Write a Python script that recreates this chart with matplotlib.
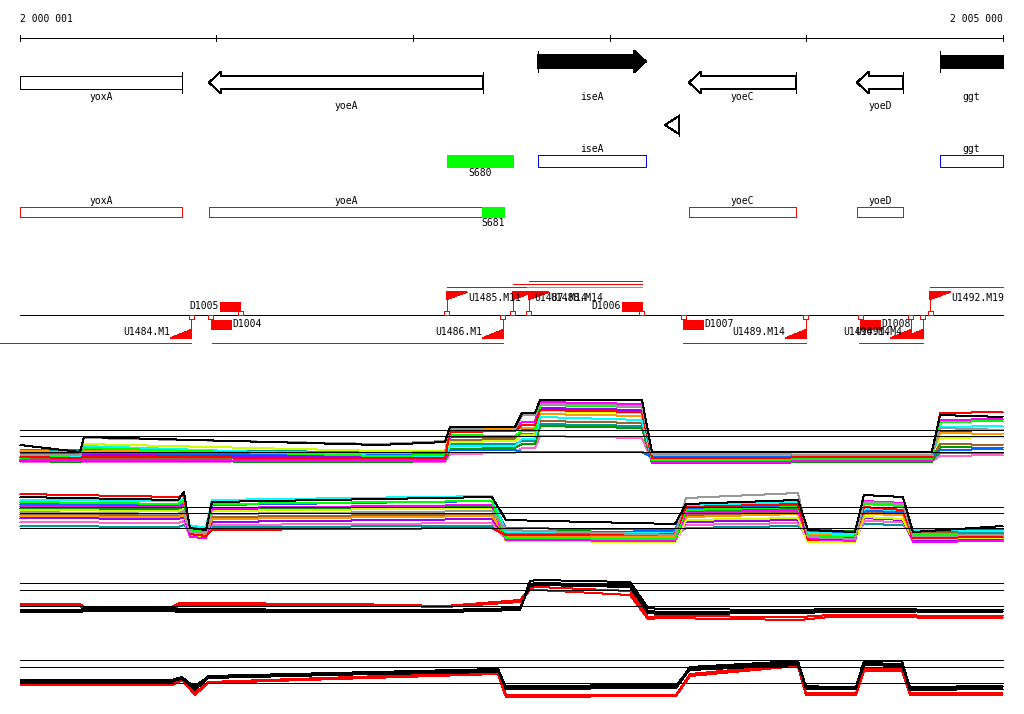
import matplotlib
matplotlib.use('Agg')
import matplotlib.pyplot as plt
from matplotlib.patches import Polygon, Rectangle

plt.rcParams['font.family'] = ['DejaVu Sans Mono']
plt.rcParams['font.size'] = 7
plt.rcParams['lines.antialiased'] = False
plt.rcParams['patch.antialiased'] = False
plt.rcParams['lines.solid_capstyle'] = 'butt'

VIEW_START = 2000001
VIEW_END = 2005000

# genes (bp)
gene_names = ['yoxA', 'yoeA', 'iseA', 'yoeC', 'yoeD', 'ggt']
gene_starts = [1999400, 2000962, 2002635, 2003403, 2004257, 2004680]
gene_ends = [2000825, 2002356, 2003184, 2003947, 2004491, 2005700]
gene_strands = ['-', '-', '+', '-', '-', '+']
terminator_pos = 2003352

# green sites
site_names = ['S680', 'S681']
site_starts = [2002172, 2002351]
site_ends = [2002508, 2002462]

# transcription units
tu_names = ['U1484.M1', 'U1485.M11', 'U1486.M1', 'U1487.M14', 'U1488.M14',
            'U1489.M14', 'U1490.M4', 'U1491.M4', 'U1492.M19']
tu_starts = [1999800, 2002172, 2000977, 2002508, 2002589, 2003373, 2004268, 2004532, 2004629]
tu_ends = [2000871, 2002573, 2002457, 2003164, 2003164, 2003998, 2004532, 2004593, 2005600]
tu_strands = ['-', '+', '-', '+', '+', '-', '-', '-', '+']
green_span = (2002578, 2003164)

# other boxes
d_names = ['D1004', 'D1005', 'D1006', 'D1007', 'D1008']
d_pos = [2000972, 2001120, 2003164, 2003373, 2004273]
d_strands = ['-', '+', '+', '-', '-']

# expression track A
expr_a_pos = [2000001, 2000306, 2000326, 2001832, 2002162, 2002188, 2002518, 2002554,
              2002620, 2002646, 2003164, 2003215, 2004638, 2004680, 2005000]
expr_a_refs = [4.0, 3.4, 1.8]
expr_a_colors = ['#000000', '#999999', '#ff0000', '#00ff00', '#ff00ff', '#00ffff', '#0066ff',
                 '#ff9900', '#ccff00', '#996633', '#009900', '#9900ff', '#ff66cc', '#009999']
expr_a = [
    [2.5, 1.8, 3.3, 2.5, 2.8, 4.3, 4.3, 5.7, 5.7, 7.0, 7.0, 1.8, 1.8, 5.5, 5.3],
    [1.5, 1.5, 3.2, 2.6, 2.9, 4.1, 4.0, 5.5, 5.5, 6.6, 6.4, 1.6, 1.5, 4.2, 4.0],
    [1.3, 1.2, 1.3, 1.2, 1.2, 3.8, 3.9, 4.5, 4.5, 6.0, 5.8, 1.2, 1.3, 5.7, 5.8],
    [1.2, 1.5, 2.2, 1.4, 1.5, 3.5, 3.4, 3.9, 3.9, 6.5, 6.3, 1.0, 1.1, 4.8, 4.9],
    [1.0, 0.9, 1.0, 0.9, 0.9, 4.0, 4.0, 4.8, 4.8, 6.8, 6.6, 0.8, 0.9, 5.0, 5.1],
    [1.4, 1.3, 2.4, 1.4, 1.3, 2.4, 2.4, 3.1, 3.1, 5.3, 5.0, 1.1, 1.2, 4.3, 4.4],
    [1.6, 1.6, 1.7, 1.5, 1.6, 2.0, 2.0, 1.8, 1.8, 1.8, 1.8, 1.3, 1.4, 2.0, 2.1],
    [1.9, 1.8, 1.9, 1.7, 1.8, 4.3, 4.2, 4.2, 4.2, 5.6, 5.4, 1.5, 1.5, 3.7, 3.6],
    [1.7, 1.8, 2.6, 1.9, 1.9, 2.8, 2.9, 3.5, 3.5, 5.9, 5.7, 1.6, 1.7, 3.2, 3.3],
    [1.1, 1.0, 1.2, 1.1, 1.0, 3.0, 3.1, 3.6, 3.6, 4.9, 4.7, 0.9, 1.0, 2.6, 2.5],
    [0.9, 0.8, 0.9, 0.8, 0.9, 2.1, 2.2, 2.6, 2.6, 4.4, 4.2, 0.7, 0.8, 2.3, 2.2],
    [1.3, 1.4, 1.5, 1.3, 1.4, 3.3, 3.3, 4.0, 4.0, 6.2, 6.0, 1.4, 1.3, 3.9, 4.0],
    [0.8, 0.8, 0.8, 0.9, 0.8, 1.6, 1.7, 2.2, 2.2, 3.4, 3.2, 0.9, 0.9, 1.4, 1.5],
    [2.0, 2.0, 2.0, 1.8, 1.9, 2.6, 2.6, 2.9, 2.9, 4.6, 4.4, 1.2, 1.1, 1.7, 1.6],
]

# expression track B
expr_b_pos = [2000001, 2000804, 2000835, 2000865, 2000947, 2000977, 2002401, 2002472, 2003332,
              2003388, 2003957, 2004008, 2004247, 2004293, 2004491, 2004542, 2005000]
expr_b_refs = [4.3, 3.7, 2.2]
expr_b_colors = expr_a_colors
expr_b = [
    [5.3, 5.0, 5.8, 2.2, 2.0, 4.8, 5.3, 3.0, 2.6, 4.6, 5.0, 2.0, 1.8, 5.5, 5.3, 1.8, 2.4],
    [3.8, 3.6, 3.9, 1.8, 1.7, 3.6, 3.9, 2.0, 1.5, 5.2, 5.7, 1.3, 1.1, 4.8, 4.6, 1.4, 1.5],
    [5.6, 5.3, 5.5, 1.6, 1.4, 2.0, 2.2, 1.5, 1.6, 4.3, 4.6, 1.0, 1.2, 4.3, 4.0, 1.2, 1.3],
    [4.8, 4.6, 4.9, 2.0, 1.9, 4.6, 4.9, 1.2, 1.1, 4.0, 4.3, 1.4, 1.3, 4.6, 4.4, 1.6, 1.5],
    [4.4, 4.3, 4.5, 1.3, 1.2, 4.2, 4.5, 1.0, 0.9, 3.7, 4.0, 1.1, 0.9, 4.9, 4.7, 0.8, 0.9],
    [5.0, 4.9, 5.1, 2.4, 2.3, 5.0, 5.4, 1.8, 1.7, 4.5, 4.8, 1.7, 1.6, 4.1, 4.0, 2.0, 1.9],
    [4.6, 4.5, 4.7, 2.1, 2.0, 4.5, 4.9, 2.2, 2.0, 4.2, 4.5, 1.9, 1.8, 3.9, 3.8, 1.9, 2.0],
    [3.4, 3.3, 3.5, 1.7, 1.6, 3.1, 3.4, 1.4, 1.3, 3.3, 3.6, 1.5, 1.4, 3.6, 3.5, 1.3, 1.4],
    [4.0, 3.9, 4.1, 1.5, 1.4, 3.9, 4.2, 0.9, 0.8, 3.0, 3.2, 0.8, 0.8, 3.3, 3.1, 1.1, 1.2],
    [3.6, 3.5, 3.7, 1.9, 1.8, 3.3, 3.6, 1.6, 1.5, 3.5, 3.8, 1.6, 1.5, 3.7, 3.6, 1.7, 1.6],
    [4.2, 4.1, 4.3, 2.3, 2.2, 4.0, 4.3, 1.9, 1.8, 3.8, 4.1, 2.0, 1.9, 4.2, 4.0, 2.1, 2.0],
    [3.2, 3.1, 3.3, 1.6, 1.5, 2.8, 3.1, 1.3, 1.2, 2.8, 3.0, 1.2, 1.1, 3.2, 3.0, 1.0, 1.1],
    [2.8, 2.7, 2.9, 1.4, 1.3, 2.5, 2.7, 1.1, 1.0, 2.5, 2.7, 1.0, 1.0, 2.9, 2.8, 0.9, 1.0],
    [2.4, 2.3, 2.5, 1.8, 1.7, 2.3, 2.4, 1.7, 1.6, 2.2, 2.4, 1.8, 1.7, 2.6, 2.5, 1.8, 1.7],
]

# expression track C
expr_c_pos = [2000001, 2000306, 2000332, 2000764, 2000815, 2001679, 2002162, 2002544,
              2002594, 2002635, 2003103, 2003195, 2003256, 2003967, 2004120, 2005000]
expr_c_refs = [4.7, 4.0, 2.4]
expr_c_colors = ['#000000', '#000000', '#000000', '#ff0000', '#ff0000']
expr_c = [
    [2.0, 2.0, 2.2, 2.2, 2.1, 2.0, 2.0, 2.1, 4.9, 5.0, 4.8, 2.2, 2.1, 2.0, 2.1, 2.0],
    [1.8, 1.8, 1.9, 1.9, 1.8, 1.8, 1.8, 2.0, 4.6, 4.7, 4.5, 1.9, 1.8, 1.8, 1.9, 1.8],
    [1.9, 1.9, 2.0, 2.0, 2.0, 1.9, 2.0, 2.2, 4.4, 4.5, 4.3, 1.7, 1.6, 1.7, 1.8, 1.9],
    [2.6, 2.6, 2.2, 2.2, 2.7, 2.6, 2.4, 3.0, 4.2, 4.3, 3.9, 1.3, 1.4, 1.3, 1.5, 1.4],
    [2.4, 2.4, 2.0, 2.0, 2.5, 2.5, 2.3, 2.8, 4.0, 4.0, 3.5, 1.1, 1.2, 1.0, 1.3, 1.2],
]

# expression track D
expr_d_pos = [2000001, 2000774, 2000825, 2000891, 2000957, 2002432, 2002472, 2003337,
              2003408, 2003957, 2003998, 2004252, 2004293, 2004486, 2004527, 2005000]
expr_d_refs = [5.0, 4.3, 2.7]
expr_d_colors = ['#000000', '#000000', '#000000', '#ff0000', '#ff0000']
expr_d = [
    [3.0, 3.0, 3.3, 2.2, 3.4, 4.1, 2.3, 2.3, 4.3, 4.9, 2.3, 2.3, 4.9, 4.9, 2.2, 2.2],
    [2.8, 2.8, 3.2, 2.0, 3.2, 3.9, 2.1, 2.2, 4.1, 4.7, 2.1, 2.1, 4.7, 4.6, 2.0, 2.1],
    [2.9, 2.9, 3.1, 2.4, 3.3, 3.8, 2.4, 2.5, 4.0, 4.5, 2.4, 2.2, 4.5, 4.4, 2.3, 2.4],
    [2.6, 2.6, 3.2, 1.7, 2.8, 3.8, 1.5, 1.5, 3.6, 4.6, 1.7, 1.7, 4.1, 4.1, 1.7, 1.7],
    [2.5, 2.5, 3.0, 1.5, 2.7, 3.6, 1.3, 1.4, 3.4, 4.4, 1.5, 1.5, 3.9, 3.9, 1.5, 1.5],
]

W, H = 1024, 714
LW = 0.72  # one pixel at 100 dpi
fig = plt.figure(figsize=(W / 100, H / 100), dpi=100)
PX = (VIEW_END - VIEW_START) / 983.0
XLIM = (VIEW_START - 20 * PX, VIEW_START + 1004 * PX)


def band(top, bottom):
    a = fig.add_axes([0, 1 - bottom / H, 1, (bottom - top) / H])
    a.set_xlim(*XLIM)
    a.axis('off')
    return a


def fmt(v):
    return f'{v:,}'.replace(',', ' ')


def square(a, x, y):
    a.add_patch(Rectangle((x - 2.5 * PX, y), 5 * PX, 4, fc='white', ec='red', lw=LW, zorder=4))


ax = band(0, 360)
ax.set_ylim(360, 0)

# ruler
ax.plot([VIEW_START, VIEW_END], [38, 38], color='black', lw=LW)
ticks = [VIEW_START] + list(range(2001000, VIEW_END + 1, 1000))
ax.vlines(ticks, 35, 41, color='black', lw=LW)
ax.text(VIEW_START, 19, fmt(VIEW_START), ha='left', va='center')
ax.text(VIEW_END, 19, fmt(VIEW_END), ha='right', va='center')

# gene arrows
bh, hh, hl = 6.5, 11, 12 * PX
minus_i = 0
for name, s, e, strand in zip(gene_names, gene_starts, gene_ends, gene_strands):
    sd, ed = max(s, VIEW_START), min(e, VIEW_END)
    fwd = strand == '+'
    yc = 61.5 if fwd else 82.5
    if fwd and e <= VIEW_END:
        pts = [(sd, yc - bh), (ed - hl, yc - bh), (ed - hl, yc - hh), (ed, yc),
               (ed - hl, yc + hh), (ed - hl, yc + bh), (sd, yc + bh)]
    elif not fwd and s >= VIEW_START:
        pts = [(ed, yc - bh), (sd + hl, yc - bh), (sd + hl, yc - hh), (sd, yc),
               (sd + hl, yc + hh), (sd + hl, yc + bh), (ed, yc + bh)]
    else:
        pts = [(sd, yc - bh), (ed, yc - bh), (ed, yc + bh), (sd, yc + bh)]
    ax.add_patch(Polygon(pts, closed=True, fc='black' if fwd else 'white', ec='black', lw=LW))
    ax.vlines(sd if fwd else ed, yc - 10.5, yc + 10.5, color='black', lw=LW)
    if fwd:
        ly = 97
    else:
        ly = 97 if minus_i % 2 == 0 else 106
        minus_i += 1
    ax.text((sd + ed) / 2, ly, name, ha='center', va='center')

    # strand boxes
    by, col = (155, 'blue') if fwd else (207, 'red')
    bhgt = 12 if fwd else 10
    ax.add_patch(Rectangle((sd, by), ed - sd, bhgt, fc='white', ec=col, lw=LW))
    ax.text((sd + ed) / 2, by - 6, name, ha='center', va='center')

# terminator
t = terminator_pos
ax.add_patch(Polygon([(t, 116), (t - 14 * PX, 125), (t, 134)], closed=True,
                     fc='white', ec='black', lw=LW))
ax.vlines(t, 114, 136, color='black', lw=LW)

# green sites
for name, s, e, row in zip(site_names, site_starts, site_ends, [155, 207]):
    hgt = 12 if row == 155 else 10
    ax.add_patch(Rectangle((s, row), e - s, hgt, fc='#00ff00', ec='#00ff00', lw=LW, zorder=3))
    ax.text((s + e) / 2, row + hgt + 6, name, ha='center', va='center')

# feature track
ax.plot([VIEW_START, VIEW_END], [315, 315], color='black', lw=LW)
fw = 20 * PX
lane_y = [343, 287, 343, 284, 281, 343, 343, 343, 287]
for name, s, e, strand, ly in zip(tu_names, tu_starts, tu_ends, tu_strands, lane_y):
    e = min(e, VIEW_END)
    if strand == '+':
        ax.add_patch(Polygon([(s, 292), (s + fw, 292), (s, 299)], closed=True,
                             fc='red', ec='red', lw=LW))
        ax.vlines(s, 292, 315, color='red', lw=LW)
        ax.plot([s, e], [ly, ly], color='red', lw=LW)
        square(ax, s, 311)
        ax.text(s + fw + 1 * PX, 298, name, ha='left', va='center')
    else:
        ax.add_patch(Polygon([(e, 338), (e - fw, 338), (e, 330)], closed=True,
                             fc='red', ec='red', lw=LW))
        ax.vlines(e, 315, 338, color='red', lw=LW)
        ax.plot([s, e], [ly, ly], color='red', lw=LW)
        square(ax, e, 315)
        ax.text(e - fw - 1 * PX, 332, name, ha='right', va='center')
ax.plot(list(green_span), [287, 287], color='#00ff00', lw=LW)

for name, p, strand in zip(d_names, d_pos, d_strands):
    if strand == '+':
        ax.add_patch(Rectangle((p - fw, 302), fw, 9, fc='red', ec='red', lw=LW))
        ax.vlines(p, 302, 315, color='red', lw=LW)
        square(ax, p, 311)
        ax.text(p - fw - 1 * PX, 306, name, ha='right', va='center')
    else:
        ax.add_patch(Rectangle((p, 320), fw, 9, fc='red', ec='red', lw=LW))
        ax.vlines(p, 315, 320, color='red', lw=LW)
        square(ax, p, 315)
        ax.text(p + fw + 1 * PX, 324, name, ha='left', va='center')


def draw_expr(top, bottom, pos, series, colors, refs):
    a = band(top, bottom)
    a.set_ylim(0, (bottom - top) / 10)
    for vals, c in reversed(list(zip(series, colors))):
        a.plot(pos, vals, color=c, lw=LW)
    a.hlines(refs, VIEW_START, VIEW_END, color='black', lw=LW, zorder=5)


draw_expr(380, 470, expr_a_pos, expr_a, expr_a_colors, expr_a_refs)
draw_expr(480, 550, expr_b_pos, expr_b, expr_b_colors, expr_b_refs)
draw_expr(570, 630, expr_c_pos, expr_c, expr_c_colors, expr_c_refs)
draw_expr(650, 710, expr_d_pos, expr_d, expr_d_colors, expr_d_refs)

fig.savefig('out.png', dpi=100, facecolor='white')
plt.close(fig)
